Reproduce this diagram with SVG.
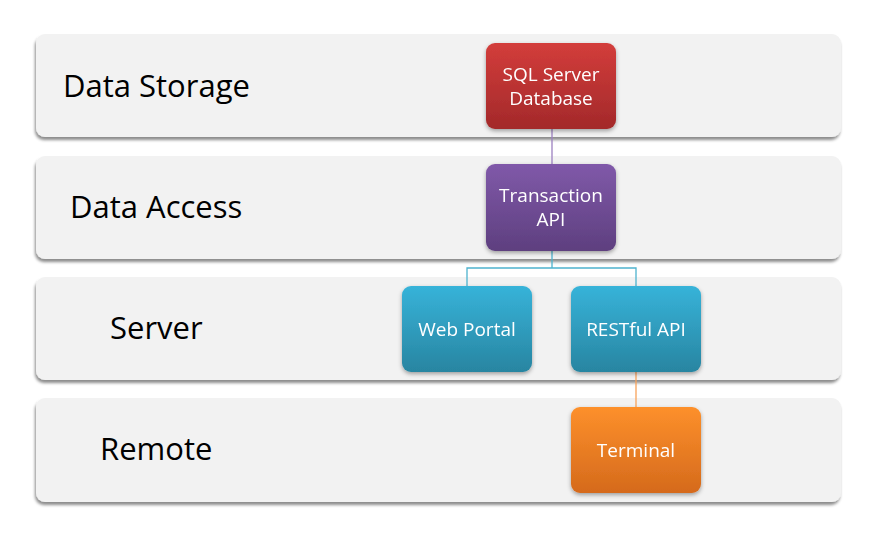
<svg xmlns="http://www.w3.org/2000/svg" width="877" height="544" viewBox="0 0 877 544">
<defs>
<filter id="sh" x="-5%" y="-10%" width="110%" height="125%">
<feDropShadow dx="-1" dy="3" stdDeviation="1.5" flood-color="#000" flood-opacity="0.45"/>
</filter>
<filter id="nsh" x="-10%" y="-10%" width="125%" height="125%">
<feDropShadow dx="0" dy="2" stdDeviation="2" flood-color="#000" flood-opacity="0.35"/>
</filter>
<linearGradient id="gRed" x1="0" y1="0" x2="0" y2="1"><stop offset="0" stop-color="#d33d3b"/><stop offset="1" stop-color="#a3292a"/></linearGradient>
<linearGradient id="gPur" x1="0" y1="0" x2="0" y2="1"><stop offset="0" stop-color="#8059a9"/><stop offset="1" stop-color="#5e3f7f"/></linearGradient>
<linearGradient id="gBlu" x1="0" y1="0" x2="0" y2="1"><stop offset="0" stop-color="#37b3d9"/><stop offset="1" stop-color="#2885a1"/></linearGradient>
<linearGradient id="gOra" x1="0" y1="0" x2="0" y2="1"><stop offset="0" stop-color="#fd902b"/><stop offset="1" stop-color="#d56a1c"/></linearGradient>
</defs>
<style>
.layer{fill:#f2f2f2;filter:url(#sh)}
.lt{font-family:"Open Sans","Liberation Sans",sans-serif;font-size:31px;fill:#000}
.node{filter:url(#nsh)}
.nt{font-family:"Open Sans","Liberation Sans",sans-serif;font-size:19px;fill:#fff;text-anchor:middle}
.c{fill:none;stroke-width:1.3}
</style>
<g id="layer-storage"><rect class="layer" x="36" y="34" width="805" height="103" rx="9"/><text class="lt" x="63" y="97">Data Storage</text></g>
<g id="layer-access"><rect class="layer" x="36" y="156" width="805" height="103" rx="9"/><text class="lt" x="70" y="218">Data Access</text></g>
<g id="layer-server"><rect class="layer" x="36" y="277" width="805" height="103" rx="9"/><text class="lt" x="110" y="339">Server</text></g>
<g id="layer-remote"><rect class="layer" x="36" y="398" width="805" height="104" rx="9"/><text class="lt" x="100" y="460">Remote</text></g>
<g id="connectors">
<path class="c" stroke="#9c80c0" d="M552 129 V164"/>
<path class="c" stroke="#4eb3ce" d="M552 251 V268 M467 286 V268 H636 V286"/>
<path class="c" stroke="#f7a25a" d="M636 372 V407"/>
</g>
<g id="node-sql" class="node"><rect x="486" y="43" width="130" height="86" rx="9" fill="url(#gRed)"/><text class="nt" x="551" y="81">SQL Server</text><text class="nt" x="551" y="105">Database</text></g>
<g id="node-transaction" class="node"><rect x="486" y="164" width="130" height="87" rx="9" fill="url(#gPur)"/><text class="nt" x="551" y="202">Transaction</text><text class="nt" x="551" y="226">API</text></g>
<g id="node-webportal" class="node"><rect x="402" y="286" width="130" height="86" rx="9" fill="url(#gBlu)"/><text class="nt" x="467" y="336">Web Portal</text></g>
<g id="node-restful" class="node"><rect x="571" y="286" width="130" height="86" rx="9" fill="url(#gBlu)"/><text class="nt" x="636" y="336">RESTful API</text></g>
<g id="node-terminal" class="node"><rect x="571" y="407" width="130" height="86" rx="9" fill="url(#gOra)"/><text class="nt" x="636" y="457">Terminal</text></g>
</svg>
